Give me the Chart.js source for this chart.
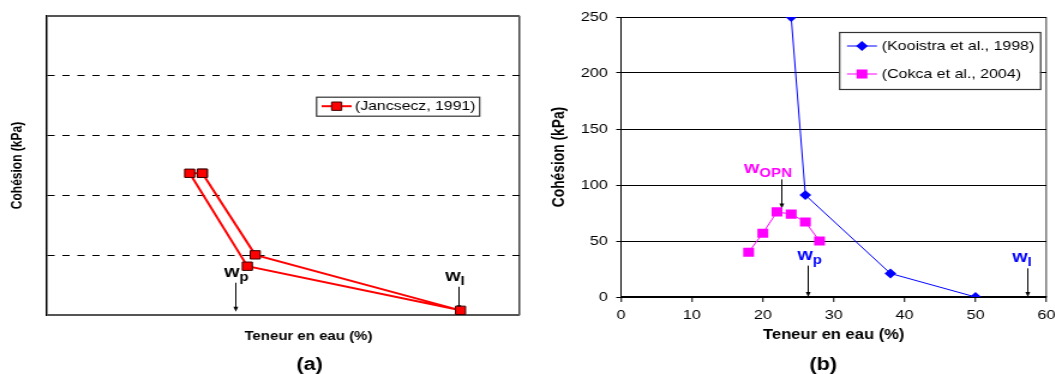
<!DOCTYPE html>
<html>
<head>
<meta charset="utf-8">
<script src="https://cdn.jsdelivr.net/npm/chart.js@4.4.0/dist/chart.umd.min.js"></script>
<style>
  html, body { margin: 0; padding: 0; background: #fff; overflow: hidden; }
  #wrap { position: relative; width: 1055px; height: 374px; overflow: hidden; }
  .panel { position: absolute; top: 0; height: 374px; overflow: hidden; }
  canvas { display: block; }
</style>
</head>
<body>
<div id="wrap">
  <div class="panel" style="left:0;width:528px">
    <canvas id="chartA" width="440" height="374" style="width:528px;height:374px"></canvas>
  </div>
  <div class="panel" style="left:528px;width:527px">
    <canvas id="chartB" width="445" height="374" style="width:534px;height:374px"></canvas>
  </div>
</div>
<script>
// (a) Jancsecz 1991 - closed path through the five points
var jancseczW = [19.8, 18.2, 25.5, 52.5, 26.5, 19.8];
var jancseczC = [118.5, 118.5, 40.8, 3.9, 50.3, 118.5];

// (b)
var kooistraW = [24, 26, 38, 50];
var kooistraC = [250, 91, 21, 0];
var cokcaW = [18, 20, 22, 24, 26, 28];
var cokcaC = [40, 57, 76, 74, 67, 50];

var waterTicks = [0, 10, 20, 30, 40, 50, 60];
var cohesionTicks = [0, 50, 100, 150, 200, 250];

// water content limits: w, top of arrow, foot of arrow (kPa)
var limitsA = [
  { name: 'p', w: 24.0, from: 27, to: 2.7 },
  { name: 'l', w: 52.3, from: 23.6, to: 4 }
];
var limitsB = [
  { name: 'OPN', w: 22.6, from: 105, to: 79 },
  { name: 'p', w: 26.4, from: 28, to: 0 },
  { name: 'l', w: 57.3, from: 25.6, to: 0 }
];

var FONT = '"Liberation Sans", Arial, sans-serif';
Chart.defaults.font.family = FONT;
Chart.defaults.color = '#000';

function pts(xs, ys) {
  return xs.map(function (x, i) { return { x: x, y: ys[i] }; });
}
function fixedTicks(list) {
  return function (scale) { scale.ticks = list.map(function (v) { return { value: v }; }); };
}

function marker(ctx, style, x, y, r, fill, stroke, bw) {
  ctx.beginPath();
  if (style === 'rectRot') {
    ctx.moveTo(x - r, y); ctx.lineTo(x, y - r); ctx.lineTo(x + r, y); ctx.lineTo(x, y + r);
    ctx.closePath();
  } else {
    var s = r * Math.SQRT1_2;
    ctx.rect(x - s, y - s, 2 * s, 2 * s);
  }
  ctx.fillStyle = fill;
  ctx.fill();
  if (bw) { ctx.lineWidth = bw; ctx.strokeStyle = stroke; ctx.stroke(); }
}

// legend drawn as a framed box inside the plot
function boxLegend(box) {
  return {
    id: 'boxLegend',
    afterDatasetsDraw: function (chart) {
      var ctx = chart.ctx;
      ctx.save();
      ctx.fillStyle = '#fff';
      ctx.fillRect(box.x, box.y, box.w, box.h);
      ctx.strokeStyle = '#333';
      ctx.lineWidth = 1.2;
      ctx.strokeRect(box.x + 0.5, box.y + 0.5, box.w, box.h);
      chart.data.datasets.forEach(function (ds, i) {
        var cy = box.y + box.first + i * box.gap;
        ctx.strokeStyle = ds.borderColor;
        ctx.lineWidth = ds.borderWidth;
        ctx.beginPath();
        ctx.moveTo(box.x + box.line[0], cy);
        ctx.lineTo(box.x + box.line[1], cy);
        ctx.stroke();
        marker(ctx, ds.pointStyle, box.x + (box.line[0] + box.line[1]) / 2, cy,
          ds.pointRadius, ds.pointBackgroundColor, ds.pointBorderColor, ds.pointBorderWidth);
        ctx.fillStyle = '#000';
        ctx.font = box.font + 'px ' + FONT;
        ctx.textBaseline = 'middle';
        ctx.textAlign = 'left';
        ctx.fillText(ds.label, box.x + box.text, cy + 0.5);
      });
      ctx.restore();
    }
  };
}

// w_p / w_l / w_OPN arrows and captions
function limitMarks(limits, style, captions) {
  return {
    id: 'limitMarks',
    beforeDatasetsDraw: function (chart) {
      var ctx = chart.ctx, xs = chart.scales.x, ys = chart.scales.y;
      ctx.save();
      limits.forEach(function (l) {
        var x = Math.round(xs.getPixelForValue(l.w)) + 0.5;
        var y1 = ys.getPixelForValue(l.from), y2 = ys.getPixelForValue(l.to);
        ctx.strokeStyle = '#000';
        ctx.lineWidth = 1;
        ctx.beginPath(); ctx.moveTo(x, y1); ctx.lineTo(x, y2 - 3); ctx.stroke();
        ctx.fillStyle = '#000';
        ctx.beginPath(); ctx.moveTo(x - 2, y2 - 5); ctx.lineTo(x + 2, y2 - 5); ctx.lineTo(x, y2); ctx.closePath(); ctx.fill();
      });
      ctx.restore();
    },
    afterDraw: function (chart) {
      var ctx = chart.ctx, xs = chart.scales.x, ys = chart.scales.y;
      ctx.save();
      ctx.textAlign = 'left';
      ctx.textBaseline = 'alphabetic';
      limits.forEach(function (l) {
        var st = style[l.name];
        var px = xs.getPixelForValue(l.w) + st.dx;
        var py = ys.getPixelForValue(l.from) - 6;
        ctx.fillStyle = st.color;
        ctx.font = 'bold 16.5px ' + FONT;
        ctx.fillText('w', px, py);
        var ww = ctx.measureText('w').width;
        ctx.font = 'bold 12.5px ' + FONT;
        ctx.fillText(l.name, px + ww, py + 4);
      });
      ctx.textAlign = 'center';
      ctx.textBaseline = 'middle';
      ctx.fillStyle = '#000';
      captions.forEach(function (c) {
        ctx.font = 'bold ' + c.size + 'px ' + FONT;
        ctx.fillText(c.text, c.x, c.y);
      });
      ctx.restore();
    }
  };
}

function isEdge(c) { return c.tick && (c.tick.value === 0 || c.tick.value === 250); }

// ---------- (a) ----------
new Chart(document.getElementById('chartA'), {
  type: 'scatter',
  data: {
    datasets: [{
      label: '(Jancsecz, 1991)',
      data: pts(jancseczW, jancseczC),
      showLine: true,
      borderColor: '#ff0000',
      borderWidth: 2,
      pointStyle: 'rect',
      pointRadius: 5.9,
      pointBackgroundColor: '#ff0000',
      pointBorderColor: '#3a0000',
      pointBorderWidth: 1
    }]
  },
  options: {
    responsive: false,
    animation: false,
    devicePixelRatio: 1,
    events: [],
    layout: { padding: { left: 0, right: 6.7, top: 16, bottom: 0 } },
    plugins: { legend: { display: false }, tooltip: { enabled: false } },
    scales: {
      x: {
        type: 'linear', min: 0, max: 60,
        afterBuildTicks: fixedTicks(waterTicks),
        afterFit: function (s) { s.height = 59; },
        ticks: { display: false },
        grid: {
          drawTicks: false,
          lineWidth: 1.5,
          color: function (c) { return c.tick && c.tick.value === 60 ? '#444' : 'rgba(0,0,0,0)'; }
        },
        border: { display: false }
      },
      y: {
        type: 'linear', min: 0, max: 250,
        afterBuildTicks: fixedTicks(cohesionTicks),
        afterFit: function (s) { s.width = 38.3; },
        ticks: { display: false },
        title: {
          display: true, text: 'Cohésion (kPa)', color: '#000',
          font: { size: 12, weight: 'bold' }, padding: { top: 7.8, bottom: 0 }
        },
        grid: {
          drawTicks: false,
          color: function (c) { return isEdge(c) ? '#555' : '#000'; },
          lineWidth: function (c) { return isEdge(c) ? 2 : 1; }
        },
        border: {
          display: true, color: '#000', width: 1.5,
          dash: function (c) { return isEdge(c) ? [] : [6, 6.5]; }
        }
      }
    }
  },
  plugins: [
    limitMarks(limitsA,
      { p: { color: '#000', dx: -9.5 }, l: { color: '#000', dx: -11.5 } },
      [{ text: 'Teneur en eau (%)', x: 257, y: 337, size: 12.5 },
       { text: '(a)', x: 258, y: 365, size: 18 }]),
    boxLegend({ x: 263.3, y: 96.7, w: 135.9, h: 19, first: 9.5, gap: 0, line: [4.7, 29.7], text: 32.5, font: 13.2 })
  ]
});

// ---------- (b) ----------
new Chart(document.getElementById('chartB'), {
  type: 'scatter',
  data: {
    datasets: [{
      label: '(Kooistra et al., 1998)',
      data: pts(kooistraW, kooistraC),
      showLine: true,
      borderColor: '#0000ff',
      borderWidth: 1,
      pointStyle: 'rectRot',
      pointRadius: 4.9,
      pointBackgroundColor: '#0000ff',
      pointBorderColor: '#0000ff',
      pointBorderWidth: 0
    }, {
      label: '(Cokca et al., 2004)',
      data: pts(cokcaW, cokcaC),
      showLine: true,
      borderColor: '#ff00ff',
      borderWidth: 1,
      pointStyle: 'rect',
      pointRadius: 6.4,
      pointBackgroundColor: '#ff00ff',
      pointBorderColor: '#ff00ff',
      pointBorderWidth: 0
    }]
  },
  options: {
    responsive: false,
    animation: false,
    devicePixelRatio: 1,
    events: [],
    layout: { padding: { left: 0, right: 12.5, top: 17, bottom: 0 } },
    plugins: { legend: { display: false }, tooltip: { enabled: false } },
    scales: {
      x: {
        type: 'linear', min: 0, max: 60,
        afterBuildTicks: fixedTicks(waterTicks),
        afterFit: function (s) { s.height = 77; },
        ticks: { font: { size: 13.5 }, color: '#000', padding: 5.5, maxRotation: 0 },
        title: {
          display: true, text: 'Teneur en eau (%)', color: '#000',
          font: { size: 13.8, weight: 'bold' }, padding: { top: 0, bottom: 30.9 }
        },
        grid: {
          tickLength: 5,
          tickColor: '#000',
          tickWidth: 1,
          lineWidth: 1.5,
          color: function (c) { return c.tick && c.tick.value === 60 ? '#777' : 'rgba(0,0,0,0)'; }
        },
        border: { display: true, color: '#000', width: 1.5 }
      },
      y: {
        type: 'linear', min: 0, max: 250,
        afterBuildTicks: fixedTicks(cohesionTicks),
        afterFit: function (s) { s.width = 77.5; },
        ticks: { font: { size: 13.5 }, color: '#000', padding: 7 },
        title: {
          display: true, text: 'Cohésion (kPa)', color: '#000',
          font: { size: 13.8, weight: 'bold' }, padding: { top: 17.5, bottom: 0 }
        },
        grid: { tickLength: 4, tickColor: '#000', color: '#000', lineWidth: 1 },
        border: { display: true, color: '#000', width: 1 }
      }
    }
  },
  plugins: [
    limitMarks(limitsB,
      { OPN: { color: '#ff00ff', dx: -31 }, p: { color: '#0000ff', dx: -9 }, l: { color: '#0000ff', dx: -12.5 } },
      [{ text: '(b)', x: 246, y: 365, size: 18 }]),
    boxLegend({ x: 259.2, y: 32, w: 167.5, h: 57, first: 14, gap: 28, line: [6.6, 31.6], text: 35.6, font: 13.3 })
  ]
});
</script>
</body>
</html>
